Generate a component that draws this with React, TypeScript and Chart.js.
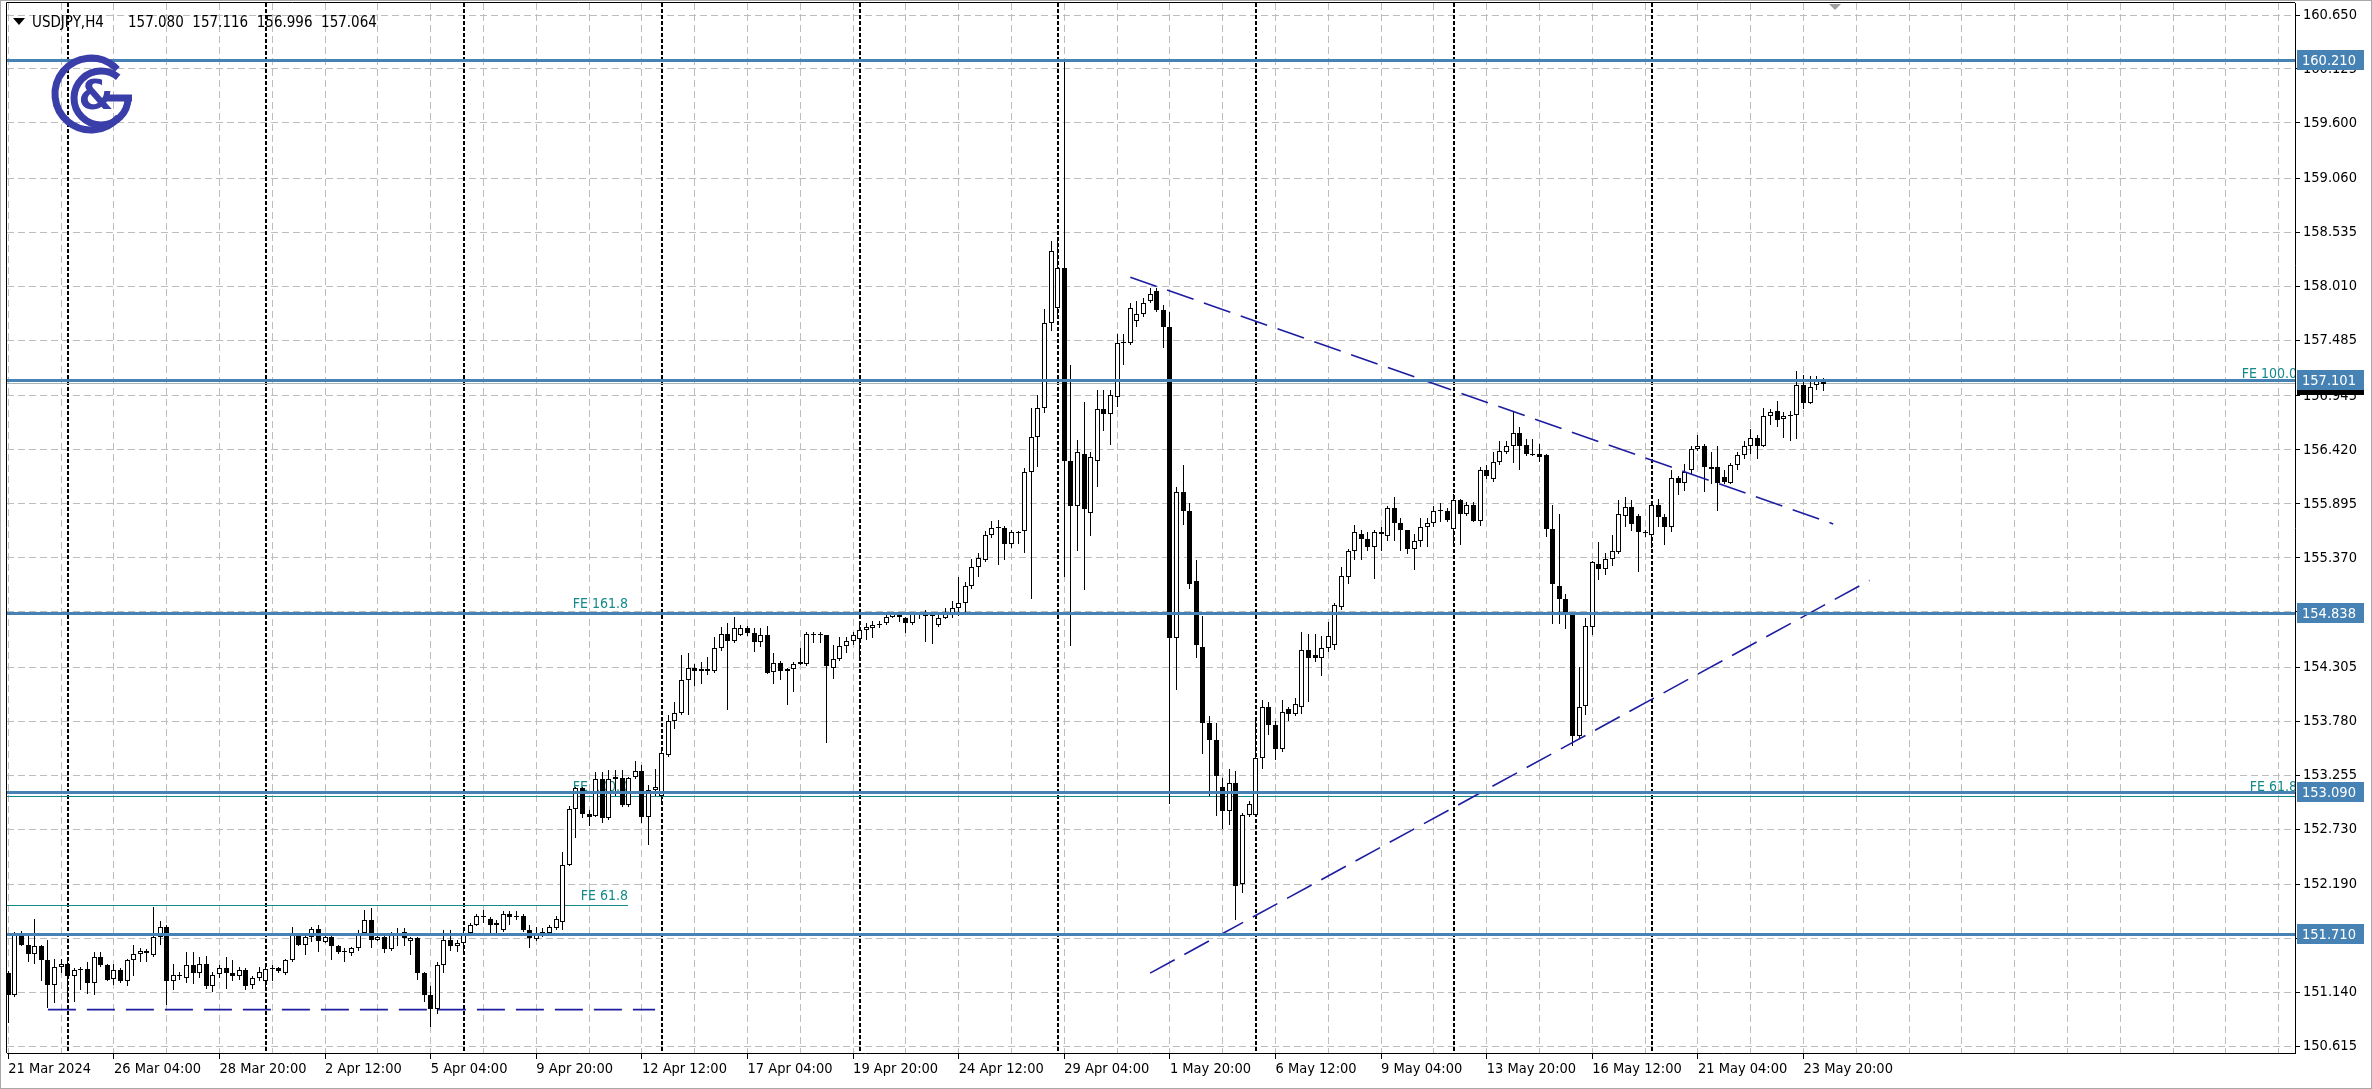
import React, { useEffect, useRef } from "react";
import { Chart, registerables } from "chart.js";

Chart.register(...registerables);

const W = 2372;
const H = 1089;
const FONT = '"DejaVu Sans Condensed", "Liberation Sans", Arial, sans-serif';

// ---- OHLC data (USDJPY H4, bar 0 = 21 Mar 2024 12:00) ----
const openP = [
  151.33,151.12,151.70,151.60,151.52,151.59,151.46,151.21,151.39,151.42,
  151.30,151.36,151.37,151.23,151.49,151.41,151.27,151.36,151.25,151.46,
  151.52,151.55,151.51,151.68,151.78,151.25,151.31,151.28,151.41,151.33,
  151.42,151.20,151.32,151.38,151.33,151.30,151.36,151.21,151.28,151.25,
  151.37,151.38,151.33,151.46,151.69,151.60,151.68,151.76,151.63,151.68,
  151.59,151.55,151.53,151.57,151.72,151.85,151.65,151.68,151.56,151.70,
  151.73,151.64,151.67,151.33,151.12,150.98,151.41,151.65,151.59,151.62,
  151.72,151.80,151.89,151.86,151.80,151.75,151.91,151.88,151.89,151.75,
  151.66,151.70,151.72,151.77,151.83,152.38,152.93,153.13,152.88,152.86,
  153.22,152.84,153.22,153.23,152.97,153.24,153.30,152.85,153.11,153.05,
  153.45,153.78,153.86,154.18,154.30,154.27,154.29,154.27,154.49,154.63,
  154.56,154.62,154.69,154.64,154.55,154.62,154.26,154.35,154.27,154.29,
  154.34,154.34,154.63,154.62,154.62,154.30,154.39,154.51,154.56,154.58,
  154.67,154.69,154.72,154.74,154.79,154.82,154.78,154.74,154.82,154.82,
  154.80,154.72,154.78,154.83,154.88,154.93,155.10,155.28,155.35,155.59,
  155.66,155.66,155.50,155.62,155.63,156.20,156.55,156.83,157.65,157.80,
  158.19,156.31,155.87,156.38,155.81,156.31,156.82,156.77,156.93,157.46,
  157.46,157.67,157.74,157.87,157.97,157.78,157.62,154.59,156.01,155.83,
  155.14,154.50,153.76,153.60,153.14,152.91,153.18,152.20,152.87,152.87,
  153.42,153.92,153.74,153.51,153.90,153.85,153.92,154.47,154.42,154.40,
  154.49,154.52,154.89,155.18,155.44,155.60,155.55,155.48,155.62,155.58,
  155.85,155.71,155.64,155.46,155.53,155.67,155.71,155.83,155.83,155.65,
  155.93,155.80,155.88,155.73,156.22,156.14,156.30,156.40,156.46,156.58,
  156.47,156.38,156.38,156.37,155.65,155.10,154.97,154.84,153.64,153.93,
  154.70,155.31,155.26,155.36,155.43,155.78,155.86,155.78,155.62,155.59,
  155.88,155.77,155.67,156.15,156.10,156.22,156.43,156.46,156.25,156.25,
  156.16,156.10,156.27,156.37,156.46,156.54,156.46,156.75,156.80,156.72,
  156.75,156.76,157.05,156.88,157.05,157.080,
];
const highP = [
  151.35,151.73,151.74,151.70,151.86,151.60,151.65,151.47,151.47,151.49,
  151.38,151.39,151.44,151.54,151.54,151.42,151.42,151.38,151.47,151.60,
  151.57,151.56,151.97,151.84,151.80,151.42,151.34,151.54,151.54,151.49,
  151.50,151.34,151.41,151.49,151.46,151.39,151.38,151.30,151.39,151.39,
  151.41,151.39,151.47,151.78,151.70,151.70,151.78,151.80,151.70,151.70,
  151.60,151.57,151.58,151.75,151.94,151.96,151.70,151.70,151.73,151.77,
  151.77,151.68,151.68,151.34,151.20,151.44,151.75,151.75,151.65,151.78,
  151.82,151.91,151.94,151.88,151.85,151.93,151.93,151.93,151.91,151.80,
  151.78,151.77,151.80,151.89,152.51,152.96,153.14,153.14,152.92,153.29,
  153.29,153.31,153.31,153.31,153.24,153.39,153.35,153.16,153.32,153.50,
  153.84,153.97,154.42,154.44,154.34,154.36,154.41,154.60,154.70,154.74,
  154.79,154.72,154.71,154.69,154.69,154.71,154.44,154.37,154.30,154.36,
  154.49,154.65,154.65,154.65,154.62,154.52,154.60,154.60,154.65,154.74,
  154.74,154.76,154.76,154.84,154.84,154.83,154.79,154.84,154.84,154.86,
  154.84,154.83,154.88,154.95,155.18,155.13,155.36,155.42,155.63,155.73,
  155.74,155.68,155.64,155.63,156.24,156.83,156.95,157.79,158.45,158.45,
  160.21,157.25,156.52,156.89,156.40,157.00,157.00,157.00,157.55,157.55,
  157.85,157.87,157.90,157.99,157.99,157.83,157.76,156.06,156.27,155.90,
  155.35,154.80,153.83,153.76,153.23,153.32,153.30,152.89,153.00,153.78,
  153.99,153.97,153.78,153.99,153.92,154.01,154.65,154.63,154.63,154.61,
  154.75,154.93,155.28,155.46,155.69,155.64,155.62,155.64,155.67,155.87,
  155.96,155.76,155.64,155.60,155.76,155.76,155.87,155.90,155.85,155.99,
  155.94,155.91,155.91,156.25,156.27,156.40,156.51,156.51,156.79,156.64,
  156.53,156.53,156.48,156.38,155.88,155.80,155.02,154.84,154.31,154.78,
  155.34,155.52,155.42,155.59,155.93,155.96,155.93,155.80,155.64,155.90,
  155.94,155.80,156.22,156.17,156.28,156.46,156.56,156.48,156.40,156.46,
  156.22,156.29,156.40,156.51,156.62,156.56,156.83,156.82,156.90,156.79,
  156.80,157.19,157.15,157.14,157.14,157.116,
];
const lowP = [
  150.84,151.10,151.59,151.44,151.42,151.25,150.99,151.04,151.33,151.04,
  151.05,151.17,151.13,151.12,151.39,151.25,151.21,151.23,151.20,151.30,
  151.44,151.44,151.49,151.60,151.02,151.17,151.26,151.23,151.22,151.28,
  151.18,151.15,151.28,151.18,151.25,151.26,151.17,151.18,151.25,151.17,
  151.25,151.33,151.31,151.44,151.59,151.51,151.63,151.54,151.62,151.46,
  151.52,151.44,151.50,151.55,151.70,151.57,151.64,151.53,151.55,151.59,
  151.59,151.51,151.26,151.05,150.81,150.93,151.33,151.55,151.54,151.52,
  151.70,151.79,151.82,151.72,151.72,151.73,151.80,151.85,151.73,151.57,
  151.64,151.68,151.70,151.75,151.75,152.37,152.64,152.84,152.76,152.85,
  152.79,152.82,153.05,152.95,152.95,153.22,152.79,152.58,153.05,152.98,
  153.43,153.70,153.84,153.84,154.12,154.14,154.23,154.25,154.46,153.89,
  154.54,154.61,154.61,154.45,154.50,154.24,154.14,154.18,153.94,154.06,
  154.33,154.32,154.54,154.54,153.57,154.19,154.37,154.44,154.52,154.38,
  154.57,154.59,154.69,154.72,154.78,154.75,154.64,154.72,154.77,154.55,
  154.53,154.70,154.77,154.78,154.80,154.83,155.07,155.18,155.33,155.56,
  155.30,155.35,155.47,155.50,155.42,154.97,156.25,156.78,157.58,157.70,
  155.18,154.51,155.44,155.06,155.58,156.06,156.60,156.47,156.84,157.25,
  157.44,157.62,157.71,157.85,157.76,157.41,152.98,154.08,155.69,155.07,
  154.40,153.46,153.05,152.86,152.73,152.77,151.85,152.11,152.85,152.85,
  153.32,153.65,153.40,153.48,153.78,153.83,153.85,153.97,154.36,154.22,
  154.45,154.47,154.86,155.12,155.35,155.35,155.44,155.16,155.44,155.53,
  155.53,155.44,155.41,155.25,155.48,155.48,155.67,155.72,155.72,155.49,
  155.49,155.78,155.72,155.68,156.14,156.11,156.27,156.38,156.29,156.22,
  156.36,156.36,156.30,155.57,154.73,154.73,154.68,153.54,153.61,153.84,
  154.62,155.15,155.20,155.29,155.41,155.67,155.63,155.23,155.57,155.47,
  155.67,155.49,155.62,155.98,156.02,156.19,156.41,156.01,156.09,155.83,
  156.09,156.09,156.22,156.33,156.38,156.33,156.45,156.66,156.64,156.54,
  156.51,156.53,156.82,156.87,157.00,156.996,
];
const closeP = [
  151.12,151.70,151.60,151.52,151.59,151.46,151.21,151.39,151.42,151.30,
  151.36,151.37,151.23,151.49,151.41,151.26,151.36,151.25,151.46,151.52,
  151.55,151.53,151.68,151.78,151.25,151.31,151.30,151.41,151.33,151.42,
  151.20,151.31,151.38,151.33,151.30,151.36,151.20,151.28,151.34,151.37,
  151.38,151.35,151.46,151.70,151.60,151.68,151.76,151.64,151.68,151.59,
  151.54,151.54,151.57,151.72,151.85,151.65,151.68,151.56,151.70,151.72,
  151.67,151.67,151.33,151.12,150.98,151.41,151.65,151.59,151.62,151.72,
  151.80,151.89,151.88,151.80,151.82,151.91,151.88,151.89,151.75,151.67,
  151.72,151.73,151.78,151.86,152.38,152.93,153.13,152.88,152.85,153.22,
  152.84,153.22,153.24,152.97,153.23,153.30,152.85,153.11,153.14,153.47,
  153.78,153.86,154.18,154.30,154.27,154.29,154.27,154.49,154.63,154.56,
  154.69,154.69,154.64,154.55,154.62,154.25,154.35,154.27,154.29,154.34,
  154.36,154.63,154.62,154.63,154.32,154.39,154.51,154.56,154.62,154.67,
  154.70,154.72,154.73,154.79,154.82,154.79,154.74,154.82,154.82,154.80,
  154.82,154.78,154.83,154.88,154.93,155.10,155.28,155.37,155.59,155.66,
  155.67,155.50,155.62,155.61,156.20,156.55,156.83,157.65,158.35,158.19,
  156.31,155.87,156.40,155.84,156.35,156.82,156.77,156.95,157.46,157.46,
  157.80,157.74,157.85,157.94,157.78,157.62,154.59,156.01,155.83,155.12,
  154.52,153.76,153.60,153.25,152.91,153.18,152.18,152.87,152.98,153.42,
  153.92,153.74,153.51,153.87,153.85,153.95,154.47,154.40,154.40,154.49,
  154.61,154.91,155.19,155.44,155.62,155.55,155.48,155.62,155.60,155.85,
  155.71,155.64,155.46,155.53,155.67,155.71,155.83,155.83,155.74,155.93,
  155.80,155.88,155.73,156.22,156.17,156.30,156.41,156.46,156.58,156.46,
  156.38,156.37,156.35,155.65,155.12,154.97,154.83,153.64,153.92,154.71,
  155.33,155.26,155.36,155.44,155.80,155.86,155.70,155.62,155.61,155.88,
  155.77,155.67,156.15,156.10,156.20,156.43,156.46,156.25,156.23,156.10,
  156.11,156.27,156.37,156.46,156.54,156.46,156.75,156.79,156.71,156.75,
  156.76,157.05,156.88,157.03,157.10,157.064,
];

// ---- axis labels ----
const xTickLabels = [
  "21 Mar 2024", "26 Mar 04:00", "28 Mar 20:00", "2 Apr 12:00", "5 Apr 04:00",
  "9 Apr 20:00", "12 Apr 12:00", "17 Apr 04:00", "19 Apr 20:00", "24 Apr 12:00",
  "29 Apr 04:00", "1 May 20:00", "6 May 12:00", "9 May 04:00", "13 May 20:00",
  "16 May 12:00", "21 May 04:00", "23 May 20:00",
];
const yTickLabels = [
  "160.650", "160.125", "159.600", "159.060", "158.535", "158.010", "157.485",
  "156.945", "156.420", "155.895", "155.370", "154.845", "154.305", "153.780",
  "153.255", "152.730", "152.190", "151.665", "151.140", "150.615",
];

// ---- drawn objects ----
const levelPrices = [160.21, 157.101, 154.838, 153.09, 151.71];
const levelLabels = ["160.210", "157.101", "154.838", "153.090", "151.710"];
const bidPrice = 157.064;
const weekSeparators = [9, 39, 69, 99, 129, 159, 189, 219, 249];
const supportFlat = [{ x: 6, y: 150.975 }, { x: 98, y: 150.975 }];
const upperTrend = [{ x: 170, y: 158.1 }, { x: 276.5, y: 155.7 }];
const lowerTrend = [{ x: 173, y: 151.33 }, { x: 282, y: 155.15 }];
const feLeftPrices = [151.995, 153.055, 154.838];
const feLeftTexts = ["FE 61.8", "FE 100.0", "FE 161.8"];
const feLeftEnd = 93.9;
const feRightPrices = [153.055, 157.07];
const feRightTexts = ["FE 61.8", "FE 100.0"];
const headerSymbol = "USDJPY,H4";
const headerQuote = "157.080  157.116  156.996  157.064";

const X_MIN = -0.197;
const X_MAX = 346.47;
const Y_MIN = 150.553;
const Y_MAX = 160.767;

const GRID = "#bdbdbd";
const BLUE = "#4682B4";
const TEAL = "#138a8a";
const NAVY = "#1c1ca0";
const LOGO = "#3a3ea8";

export default function App() {
  const ref = useRef<HTMLCanvasElement>(null);

  useEffect(() => {
    document.body.style.margin = "0";
    const canvas = ref.current;
    if (!canvas) return;

    const bodies = openP.map((o, i) => ({ x: i, y: [o, closeP[i]] }));
    const wicks = lowP.map((l, i) => ({ x: i, y: [l, highP[i]] }));
    const xGrid: number[] = [];
    for (let v = 0; v <= 344; v += 8) xGrid.push(v);

    const overlay = {
      id: "overlay",
      afterDatasetsUpdate(chart: any) {
        // snap candle elements (positioned by the scales) to whole pixels
        chart.data.datasets.forEach((ds: any, di: number) => {
          if (ds.type !== "bar") return;
          const meta = chart.getDatasetMeta(di);
          meta.data.forEach((el: any) => {
            el.x = Math.floor(el.x) + 0.5;
            let y = Math.round(el.y);
            let b = Math.round(el.base);
            if (y === b) y = b - 1;
            el.y = y;
            el.base = b;
          });
        });
      },
      beforeDatasetsDraw(chart: any) {
        const { ctx, chartArea: a, scales } = chart;
        const xs = scales.x, ys = scales.y;
        ctx.save();
        ctx.beginPath();
        ctx.rect(a.left, a.top, a.right - a.left, a.bottom - a.top);
        ctx.clip();
        // weekly separators
        ctx.strokeStyle = "#000";
        ctx.lineWidth = 2;
        ctx.setLineDash([4, 2]);
        weekSeparators.forEach((b) => {
          const px = Math.round(xs.getPixelForValue(b));
          ctx.beginPath();
          ctx.moveTo(px, a.top);
          ctx.lineTo(px, a.bottom);
          ctx.stroke();
        });
        ctx.setLineDash([]);
        // FE lines & texts
        ctx.font = `14px ${FONT}`;
        ctx.fillStyle = TEAL;
        ctx.textBaseline = "bottom";
        ctx.textAlign = "right";
        const leftEndPx = xs.getPixelForValue(feLeftEnd);
        feLeftPrices.forEach((p, k) => {
          const py = Math.round(ys.getPixelForValue(p)) + 0.5;
          ctx.strokeStyle = TEAL;
          ctx.lineWidth = 1;
          ctx.beginPath();
          ctx.moveTo(a.left, py);
          ctx.lineTo(k === 1 ? a.right : leftEndPx, py);
          ctx.stroke();
          ctx.fillText(feLeftTexts[k], leftEndPx, py - 2);
        });
        feRightPrices.forEach((p, k) => {
          const py = Math.round(ys.getPixelForValue(p)) + 0.5;
          ctx.strokeStyle = k === 1 ? "#a9b4b4" : TEAL;
          ctx.lineWidth = 1;
          ctx.beginPath();
          ctx.moveTo(a.left, py);
          ctx.lineTo(a.right, py);
          ctx.stroke();
          ctx.fillText(feRightTexts[k], a.right + 2, py - 2);
        });
        ctx.restore();
      },
      afterDatasetsDraw(chart: any) {
        const { ctx, chartArea: a, scales } = chart;
        const ys = scales.y;
        ctx.save();
        ctx.strokeStyle = BLUE;
        ctx.lineWidth = 3;
        levelPrices.forEach((p) => {
          const py = Math.round(ys.getPixelForValue(p)) + 0.5;
          ctx.beginPath();
          ctx.moveTo(a.left, py);
          ctx.lineTo(a.right, py);
          ctx.stroke();
        });
        ctx.restore();
      },
      afterDraw(chart: any) {
        const { ctx, chartArea: a, scales } = chart;
        const ys = scales.y;
        ctx.save();
        // frames
        ctx.strokeStyle = "#a8a8a8";
        ctx.lineWidth = 1;
        ctx.strokeRect(0.5, 0.5, W - 1, H - 1);
        ctx.strokeStyle = "#000";
        ctx.beginPath();
        ctx.moveTo(a.left - 0.5, a.bottom);
        ctx.lineTo(a.left - 0.5, a.top - 0.5);
        ctx.lineTo(a.right, a.top - 0.5);
        ctx.stroke();
        // axis price boxes
        ctx.font = `14.5px ${FONT}`;
        ctx.textBaseline = "middle";
        ctx.textAlign = "left";
        const by = Math.round(ys.getPixelForValue(bidPrice));
        ctx.fillStyle = "#000";
        ctx.fillRect(a.right + 2, by - 9, 67, 20);
        levelPrices.forEach((p, k) => {
          const py = Math.round(ys.getPixelForValue(p));
          ctx.fillStyle = BLUE;
          ctx.fillRect(a.right + 2, py - 10, 67, 20);
          ctx.fillStyle = "#fff";
          ctx.fillText(levelLabels[k], a.right + 7, py + 1);
        });
        // chart shift marker
        ctx.fillStyle = "#a0a0a0";
        ctx.beginPath();
        ctx.moveTo(1829, 4);
        ctx.lineTo(1841, 4);
        ctx.lineTo(1835, 10);
        ctx.closePath();
        ctx.fill();
        // header
        ctx.fillStyle = "#000";
        ctx.beginPath();
        ctx.moveTo(13, 18);
        ctx.lineTo(25, 18);
        ctx.lineTo(19, 25);
        ctx.closePath();
        ctx.fill();
        ctx.font = `15px ${FONT}`;
        ctx.textBaseline = "alphabetic";
        ctx.fillText(headerSymbol, 32, 27);
        ctx.fillText(headerQuote, 128, 27);
        // logo
        ctx.strokeStyle = LOGO;
        ctx.fillStyle = LOGO;
        ctx.lineWidth = 7;
        ctx.lineCap = "butt";
        ctx.beginPath();
        ctx.arc(91, 94, 36, 0.22 * Math.PI, 1.76 * Math.PI, false);
        ctx.stroke();
        ctx.beginPath();
        ctx.arc(101, 98, 27, 0, 1.72 * Math.PI, false);
        ctx.stroke();
        ctx.beginPath();
        ctx.moveTo(106, 98);
        ctx.lineTo(132, 98);
        ctx.stroke();
        ctx.font = `bold 40px "DejaVu Sans", sans-serif`;
        ctx.textAlign = "center";
        ctx.textBaseline = "middle";
        ctx.fillText("&", 96, 99);
        ctx.restore();
      },
    };

    const chart = new Chart(canvas, {
      type: "bar",
      data: {
        datasets: [
          { type: "line", data: supportFlat, borderColor: NAVY, borderWidth: 1.6, borderDash: [28, 11], pointRadius: 0, fill: false, order: 0 },
          { type: "line", data: upperTrend, borderColor: NAVY, borderWidth: 1.6, borderDash: [28, 11], pointRadius: 0, fill: false, order: 0 },
          { type: "line", data: lowerTrend, borderColor: NAVY, borderWidth: 1.6, borderDash: [28, 11], pointRadius: 0, fill: false, order: 0 },
          {
            type: "bar", data: bodies, order: 2, grouped: false,
            backgroundColor: (c: any) => (closeP[c.dataIndex] >= openP[c.dataIndex] ? "#ffffff" : "#000000"),
            borderColor: "#000000", borderWidth: 1, borderSkipped: false,
            maxBarThickness: 5, categoryPercentage: 1, barPercentage: 1, minBarLength: 1, inflateAmount: 0,
          },
          {
            type: "bar", data: wicks, order: 3, grouped: false,
            backgroundColor: "#000000", borderWidth: 0,
            maxBarThickness: 1, categoryPercentage: 1, barPercentage: 1, inflateAmount: 0,
          },
        ],
      } as any,
      options: {
        responsive: false,
        animation: false,
        devicePixelRatio: 1,
        events: [],
        layout: { padding: { left: 7, top: 3, right: 0, bottom: 0 } },
        plugins: { legend: { display: false }, tooltip: { enabled: false }, title: { display: false } },
        scales: {
          x: {
            type: "linear", min: X_MIN, max: X_MAX, offset: false, position: "bottom",
            afterBuildTicks: (s: any) => { s.ticks = xGrid.map((v) => ({ value: v })); },
            afterFit: (s: any) => { s.height = 36; s.paddingLeft = 0; s.paddingRight = 0; },
            ticks: {
              autoSkip: false, maxRotation: 0, minRotation: 0, align: "start", padding: 2,
              color: "#000", font: { family: FONT, size: 14.5 },
              callback: (v: any) => (v % 16 === 0 && xTickLabels[v / 16] ? xTickLabels[v / 16] : ""),
            },
            grid: {
              color: GRID, lineWidth: 1, drawOnChartArea: true, drawTicks: true, tickLength: 6, offset: false,
              tickColor: (c: any) => (c.tick && c.tick.value % 16 === 0 && xTickLabels[c.tick.value / 16] ? "#000" : "rgba(0,0,0,0)"),
              tickBorderDash: [],
            },
            border: { display: true, color: "#000", width: 1, dash: [7, 4] },
          },
          y: {
            type: "linear", position: "right", min: Y_MIN, max: Y_MAX,
            afterBuildTicks: (s: any) => { s.ticks = yTickLabels.map((t) => ({ value: parseFloat(t) })); },
            afterFit: (s: any) => { s.width = 77; s.paddingTop = 0; s.paddingBottom = 0; },
            ticks: {
              autoSkip: false, padding: 3, color: "#000", crossAlign: "near",
              font: { family: FONT, size: 14.5 },
              callback: (_v: any, i: number) => yTickLabels[i],
            },
            grid: { color: GRID, lineWidth: 1, drawTicks: true, tickLength: 5, tickColor: "#000", tickBorderDash: [] },
            border: { display: true, color: "#000", width: 1, dash: [7, 4] },
          },
        },
      } as any,
      plugins: [overlay],
    });

    return () => chart.destroy();
  }, []);

  return (
    <div style={{ position: "fixed", left: 0, top: 0, width: W, height: H, background: "#fff" }}>
      <canvas ref={ref} width={W} height={H} style={{ display: "block", width: W, height: H }} />
    </div>
  );
}
